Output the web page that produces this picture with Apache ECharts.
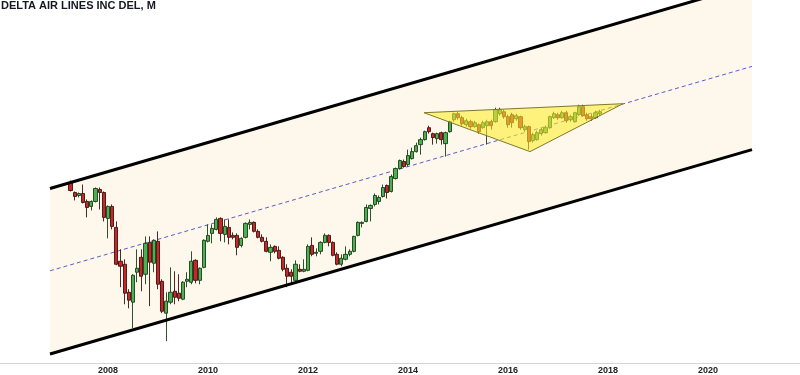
<!DOCTYPE html>
<html><head><meta charset="utf-8">
<script src="https://cdn.jsdelivr.net/npm/echarts@6/dist/echarts.min.js"></script>
<style>html,body{margin:0;padding:0;background:#fff}#c{width:800px;height:375px}</style>
</head><body><div id="c"></div>
<script>
const titleText = 'DELTA AIR LINES INC DEL, M';
const firstYear = 2007, firstMonth = 4; // first monthly bar: April 2007
const opens = [
20.47,18.22,17.59,18.01,16.41,15.49,16.41,18.87,18.22,
13.47,15.49,12.13,8.17,7.89,5.69,5.07,7.19,8.56,7.02,10.18,7.98,
10.31,6.47,4.46,5.07,5.76,5.63,5.25,6.47,6.40,8.26,6.54,7.61,
10.31,11.31,11.85,13.47,11.18,12.13,11.05,11.05,9.83,10.80,12.56,12.86,
11.58,10.80,10.31,9.07,9.72,9.28,8.56,7.53,7.19,6.54,7.44,7.27,
7.35,9.83,8.96,9.17,10.18,11.05,10.18,8.86,7.89,8.36,8.86,9.17,
11.05,12.71,13.00,15.13,15.85,16.41,17.39,19.77,18.44,21.45,24.09,26.14,
25.24,27.06,29.35,31.84,33.75,38.80,36.19,34.15,36.61,32.21,37.04,42.58,
45.66,43.58,40.18,41.60,39.26,40.18,38.80,39.72,41.60,41.60,45.66,46.73,
44.10,45.13,43.08,44.10,37.91,39.26,33.36,33.75,36.19,36.61,38.80,43.58,
45.13,43.58,46.19,42.58,41.60,45.13,49.55,45.13,44.10,43.58,45.66];
const closes = [
18.65,17.39,18.01,16.22,15.30,16.41,19.09,18.22,13.63,
15.49,12.27,7.89,7.71,5.63,5.19,6.94,7.53,6.86,10.07,8.08,10.43,
6.25,4.56,5.13,5.69,5.37,5.31,6.40,6.62,8.17,6.54,7.53,10.43,
11.05,11.99,13.31,11.31,12.27,10.80,10.80,9.61,10.67,12.71,12.86,11.58,
10.80,10.31,9.17,9.61,9.17,8.46,7.44,6.86,6.86,7.89,7.27,7.44,
9.72,8.86,9.07,10.18,11.05,10.18,8.76,7.89,8.46,8.86,9.17,10.92,
12.86,12.86,15.30,15.67,17.59,17.19,19.31,18.22,21.95,24.09,26.44,24.66,
28.02,29.35,31.47,33.75,37.04,37.04,34.55,36.19,33.75,36.61,41.60,45.66,
43.58,40.65,42.09,39.26,41.12,37.04,41.12,41.60,39.72,47.84,47.84,44.10,
40.18,41.12,44.61,38.80,39.26,32.98,35.77,36.61,37.91,38.80,44.10,45.66,
43.58,46.19,42.09,44.10,46.19,49.55,44.61,43.08,43.08,46.19,46.73];
const lows = [
18.44,16.61,17.19,16.04,13.63,14.78,16.22,14.95,13.00,
10.67,11.85,7.80,6.04,4.95,4.72,3.75,6.40,5.76,6.25,4.84,7.19,
5.90,4.46,3.22,4.95,4.95,5.13,5.19,6.04,6.25,6.32,6.25,7.53,
10.18,10.07,11.71,10.31,10.18,9.95,10.55,8.76,9.61,10.67,11.85,11.44,
10.67,10.18,9.07,8.17,8.96,8.36,7.27,6.04,6.25,6.40,7.19,7.19,
7.27,8.66,8.66,8.86,10.07,9.72,8.66,7.80,7.71,8.26,8.66,9.07,
10.92,12.13,12.86,13.00,15.49,15.85,17.19,16.99,18.22,21.20,23.81,24.37,
24.66,26.75,29.02,28.35,33.36,36.19,31.84,32.21,31.84,27.70,36.61,41.60,
42.58,39.72,39.26,38.35,38.80,36.19,38.35,31.84,37.91,41.12,44.61,43.08,
38.80,38.80,42.09,37.91,37.04,30.04,32.59,33.36,35.35,36.19,38.35,43.08,
42.58,43.08,41.12,41.60,41.12,44.61,44.10,42.09,42.09,43.08,44.61];
const highs = [
20.95,18.44,18.22,20.00,16.80,16.61,19.31,19.31,18.44,
15.67,15.85,13.00,9.39,8.36,5.90,7.02,9.39,9.39,10.92,10.92,10.55,
11.58,6.62,5.69,7.61,7.27,7.02,6.47,7.19,9.17,8.36,7.61,10.55,
12.56,12.56,13.63,13.63,13.31,13.31,11.44,11.31,10.80,12.86,13.31,13.00,
11.85,11.18,10.80,9.95,9.83,9.72,8.66,7.89,7.44,8.26,7.89,8.36,
9.95,10.80,9.50,10.31,11.31,11.18,10.31,9.07,8.86,9.72,9.39,11.00,
13.00,13.00,15.85,15.85,18.01,17.59,20.00,20.00,22.47,24.37,26.75,26.75,
30.04,30.75,32.59,34.55,37.47,39.72,36.61,36.61,37.04,37.04,42.09,46.19,
46.73,44.61,43.08,42.58,42.09,40.65,42.09,42.58,42.58,48.97,48.97,47.84,
45.13,46.19,45.66,44.61,40.18,39.72,36.61,37.47,38.80,39.72,44.61,46.73,
46.19,47.28,47.28,45.13,46.73,50.71,50.71,46.19,45.66,47.28,47.84];
const yearTicks = [2008, 2010, 2012, 2014, 2016, 2018, 2020];
// trendlines: [decimal year, price]
const channelUpper = [[2006.84, 19.09], [2020.88, 207.1]];
const channelLower = [[2006.84, 2.77], [2020.88, 30.04]];
const channelMid = [[2006.84, 7.31], [2020.88, 79.3]];
const triangle = [[2014.32, 46.19], [2018.30, 51.31], [2016.44, 29.35]];

const xs = opens.map((_, i) => firstYear + (firstMonth - 1 + i) / 12);
const candleData = opens.map((o, i) => [xs[i], o, closes[i], lows[i], highs[i]]);

const chart = echarts.init(document.getElementById('c'), null, {renderer: 'canvas'});
chart.setOption({
  animation: false,
  backgroundColor: '#ffffff',
  grid: {left: 0, right: 0, top: 0, bottom: 11, containLabel: false},
  graphic: [{
    type: 'text', left: 1, top: 0, z: 100,
    style: {text: titleText, font: 'bold 11px "Liberation Sans Narrow", "Liberation Sans", sans-serif', fill: '#131722'}
  }],
  xAxis: {
    type: 'value', min: 2005.84, max: 2021.84,
    axisLine: {show: true, lineStyle: {color: '#d4d4d4', width: 1}},
    axisTick: {show: false},
    splitLine: {show: false},
    axisLabel: {
      customValues: yearTicks, formatter: v => String(v),
      fontSize: 9, color: '#222', fontWeight: 'bold',
      fontFamily: '"Liberation Sans Narrow", "Liberation Sans", sans-serif',
      margin: 3
    }
  },
  yAxis: {type: 'log', min: 2.4946, max: 171.98, show: false, splitLine: {show: false}},
  series: [
    {
      type: 'custom', silent: true, z: 1,
      data: [channelUpper[0]],
      renderItem: (params, api) => {
        const pts = [channelUpper[0], channelUpper[1], channelLower[1], channelLower[0]].map(p => api.coord(p));
        return {type: 'polygon', shape: {points: pts}, style: {fill: '#fdf7ec'}};
      }
    },
    {
      type: 'line', z: 2, silent: true, symbol: 'none',
      data: channelMid,
      lineStyle: {color: '#5b5fc7', width: 1, type: [4, 3]}
    },
    {
      type: 'candlestick', z: 3,
      data: candleData,
      encode: {x: 0, y: [1, 2, 3, 4]},
      barWidth: 3.6,
      itemStyle: {
        color: '#4caf50', color0: '#c62828',
        borderColor: '#173d17', borderColor0: '#3d1010', borderWidth: 0.9
      }
    },
    {
      type: 'line', z: 4, silent: true, symbol: 'none',
      data: channelUpper,
      lineStyle: {color: '#000', width: 3}
    },
    {
      type: 'line', z: 4, silent: true, symbol: 'none',
      data: channelLower,
      lineStyle: {color: '#000', width: 3}
    },
    {
      type: 'custom', silent: true, z: 5,
      data: [triangle[0]],
      renderItem: (params, api) => {
        const pts = triangle.map(p => api.coord(p));
        return {type: 'polygon', shape: {points: pts}, style: {fill: 'rgba(255,238,45,0.58)', stroke: '#7d7a2a', lineWidth: 1}};
      }
    }
  ]
});
</script>
</body></html>
